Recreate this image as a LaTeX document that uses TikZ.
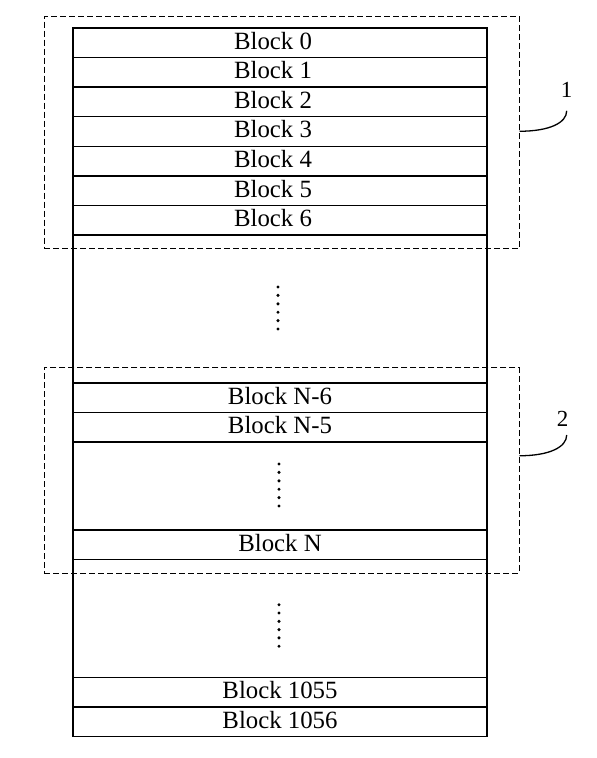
\documentclass[tikz,border=0pt]{standalone}
\usepackage{fontspec}
\setmainfont{Liberation Serif}
\usetikzlibrary{positioning}

\begin{document}
\begin{tikzpicture}[x=1pt,y=-1pt,
	row/.style={draw,line width=1.3pt,minimum width=414pt,minimum height=29.5pt,inner sep=0pt,
		text height=12.8pt,text depth=0pt,font=\fontsize{24.8}{26}\selectfont},
	txt/.style={inner sep=0pt,text height=12.8pt,text depth=0pt,font=\fontsize{24.8}{26}\selectfont},
	group/.style={draw,line width=1pt,dash pattern=on 6pt off 3pt,minimum width=475pt,inner sep=0pt},
	tag/.style={inner sep=0pt,font=\fontsize{23}{25}\selectfont}]
	\useasboundingbox (0,0) rectangle (597,758);
	
	% the column of blocks
	\node[draw,line width=1.3pt,minimum width=414pt,minimum height=708.3pt,inner sep=0pt] (col) at (280,382.15) {};
	\foreach \i in {0,...,6}
		\node[row,label={[txt,xshift=-7pt]center:Block \i}] (b\i) at (280,42.8+29.57*\i) {};
	\node[row] (bn6) at (280,397.7) {Block N-6};
	\node[row] (bn5) at (280,427.2) {Block N-5};
	\node[row] (bn) at (280,544.7) {Block N};
	\node[row] (b1055) at (280,692.3) {Block 1055};
	\node[row] (b1056) at (280,721.7) {Block 1056};
	
	% dots
	\foreach \k in {0,...,5} {
		\fill (278,287+8.4*\k) circle (1.7pt);
		\fill (279,464+8.4*\k) circle (1.7pt);
		\fill (279,604.7+8.3*\k) circle (1.7pt);
	}
	
	% the two groups
	\node[group,minimum height=232.5pt] (grp1) at (281.5,132.25) {};
	\node[group,minimum height=205.3pt] (grp2) at (281.5,470.35) {};
	\node[tag] (t1) at (566.7,90) {1};
	\node[tag] (t2) at (562.7,418.5) {2};
	\draw[line width=1.3pt] ([yshift=1pt]grp1.east) .. controls +(30,0) and +(0,12) .. ([yshift=-13pt]t1.south);
	\draw[line width=1.3pt] ([yshift=14.6pt]grp2.east) .. controls +(30,0) and +(0,12) .. ([xshift=4pt,yshift=-8.7pt]t2.south);
\end{tikzpicture}
\end{document}
